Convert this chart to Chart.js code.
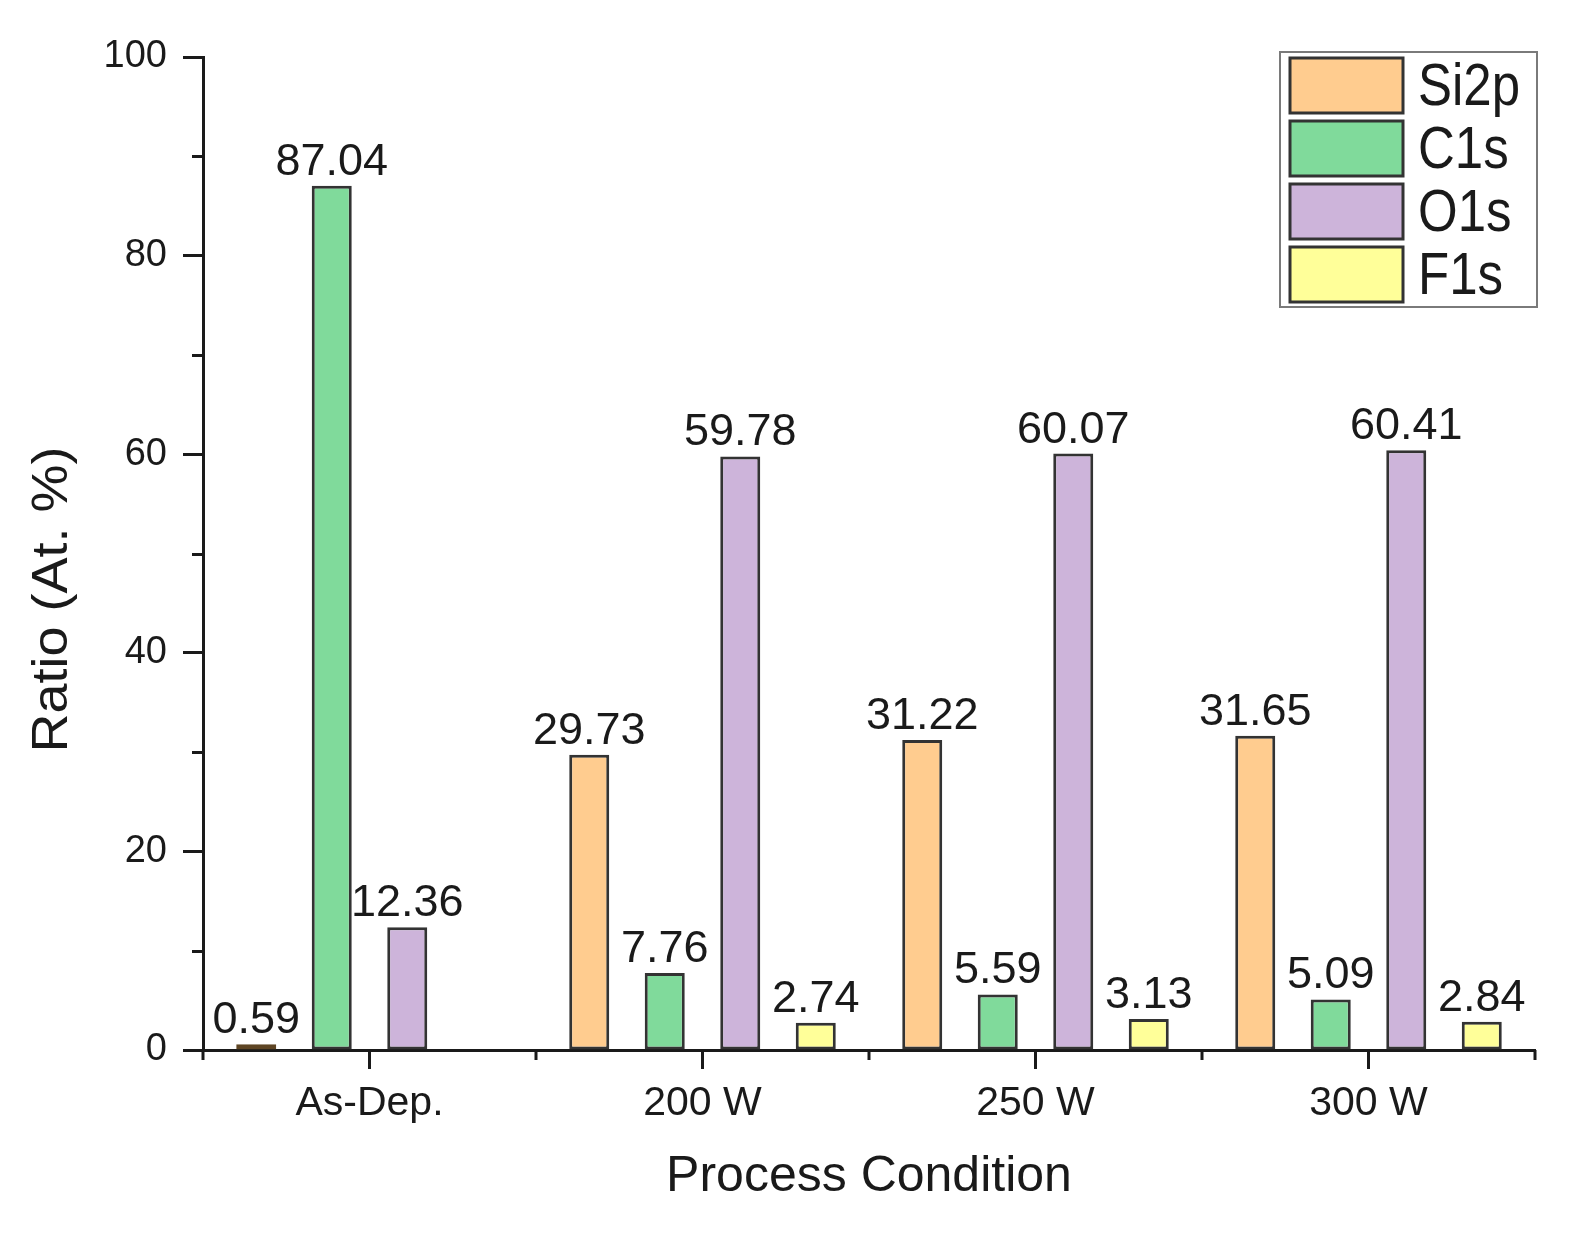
<!DOCTYPE html>
<html>
  <head>
    <meta charset="utf-8">
    <title>XPS ratio</title>
    <script src="https://cdn.jsdelivr.net/npm/chart.js@4.4.1/dist/chart.umd.min.js"></script>
    <style>
      html, body { margin: 0; padding: 0; background: #ffffff; }
      #chart { display: block; }
    </style>
  </head>
  <body>
    <canvas id="chart" width="1585" height="1239"></canvas>
    <script>
      // data
      const conditions = ['As-Dep.', '200 W', '250 W', '300 W'];
      const seriesNames = ['Si2p', 'C1s', 'O1s', 'F1s'];
      const si2p = [0.59, 29.73, 31.22, 31.65];
      const c1s = [87.04, 7.76, 5.59, 5.09];
      const o1s = [12.36, 59.78, 60.07, 60.41];
      const f1s = [null, 2.74, 3.13, 2.84];
      const yTicks = [0, 20, 40, 60, 80, 100];
      const yMinorTicks = [10, 30, 50, 70, 90];

      const fills = ['#FFCC8F', '#80DA9B', '#CDB4DA', '#FFFF99'];
      const ink = '#1a1a1a';
      const FONT = '"Liberation Sans", Arial, sans-serif';

      // minor ticks on both axes
      const minorTicks = {
        id: 'minorTicks',
        afterDraw(chart) {
          const ctx = chart.ctx;
          const x = chart.scales.x, y = chart.scales.y;
          const area = chart.chartArea;
          ctx.save();
          ctx.strokeStyle = ink;
          ctx.lineWidth = 3;
          ctx.beginPath();
          yMinorTicks.forEach(v => {
            const py = Math.round(y.getPixelForValue(v)) + 0.5;
            ctx.moveTo(area.left - 11, py);
            ctx.lineTo(area.left, py);
          });
          const step = x.getPixelForValue(1) - x.getPixelForValue(0);
          for (let i = -1; i < conditions.length; i++) {
            const px = x.getPixelForValue(i) + step / 2;
            ctx.moveTo(px, area.bottom);
            ctx.lineTo(px, area.bottom + 10);
          }
          ctx.stroke();
          ctx.restore();
        }
      };

      // numbers above the bars
      const barValues = {
        id: 'barValues',
        afterDatasetsDraw(chart) {
          const ctx = chart.ctx;
          ctx.save();
          ctx.font = '45px ' + FONT;
          ctx.fillStyle = ink;
          ctx.textAlign = 'center';
          ctx.textBaseline = 'alphabetic';
          chart.data.datasets.forEach((ds, di) => {
            const meta = chart.getDatasetMeta(di);
            meta.data.forEach((bar, i) => {
              const v = ds.data[i];
              if (v === null || v === undefined) return;
              ctx.fillText(v.toFixed(2), bar.x, bar.y - 11);
            });
          });
          ctx.restore();
        }
      };

      // boxed legend and the y title
      const boxLegend = {
        id: 'boxLegend',
        afterDraw(chart) {
          const ctx = chart.ctx;
          const area = chart.chartArea;
          const left = area.right - 255, top = area.top - 5;
          const w = 257, h = 255;
          ctx.save();
          ctx.strokeStyle = '#7a7a7a';
          ctx.lineWidth = 2;
          ctx.strokeRect(left, top, w, h);
          ctx.font = '60px ' + FONT;
          ctx.textAlign = 'left';
          ctx.textBaseline = 'alphabetic';
          seriesNames.forEach((name, i) => {
            const sy = top + 6 + i * 63;
            ctx.fillStyle = fills[i];
            ctx.fillRect(left + 10, sy, 113, 55);
            ctx.strokeStyle = '#333333';
            ctx.lineWidth = 3;
            ctx.strokeRect(left + 10, sy, 113, 55);
            ctx.fillStyle = ink;
            ctx.save();
            ctx.translate(left + 138, sy + 47);
            ctx.scale(0.85, 1);
            ctx.fillText(name, 0, 0);
            ctx.restore();
          });

          ctx.font = '54px ' + FONT;
          ctx.textAlign = 'center';
          ctx.translate(67, (area.top + area.bottom) / 2 + 46);
          ctx.rotate(-Math.PI / 2);
          ctx.scale(1, 0.92);
          ctx.fillText('Ratio (At. %)', 0, 0);
          ctx.restore();
        }
      };

      const datasets = [si2p, c1s, o1s, f1s].map((vals, i) => ({
        label: seriesNames[i],
        data: vals,
        backgroundColor: i === 0 ? vals.map((v, k) => k === 0 ? '#9A7442' : fills[0]) : fills[i],
        borderColor: i === 0 ? vals.map((v, k) => k === 0 ? '#5e4524' : '#333333') : '#333333',
        borderWidth: 3,
        borderSkipped: false,
        categoryPercentage: 0.907,
        barPercentage: 0.53
      }));

      new Chart(document.getElementById('chart'), {
        type: 'bar',
        data: { labels: conditions, datasets: datasets },
        options: {
          responsive: false,
          devicePixelRatio: 1,
          animation: false,
          layout: { padding: { top: 57, right: 50, bottom: 0, left: 0 } },
          plugins: {
            legend: { display: false },
            tooltip: { enabled: false }
          },
          scales: {
            x: {
              grid: {
                offset: false,
                drawOnChartArea: false,
                drawTicks: true,
                tickLength: 19,
                tickWidth: 3,
                tickColor: ink
              },
              border: { color: ink, width: 3 },
              ticks: {
                color: ink,
                padding: 10,
                font: { family: FONT, size: 41 }
              },
              title: {
                display: true,
                text: 'Process Condition',
                color: ink,
                font: { family: FONT, size: 50 },
                padding: { top: 0, bottom: 32 }
              },
              afterFit(scale) { scale.height = 189; }
            },
            y: {
              min: 0,
              max: 100,
              afterBuildTicks(scale) { scale.ticks = yTicks.map(v => ({ value: v })); },
              grid: {
                drawOnChartArea: false,
                drawTicks: true,
                tickLength: 20,
                tickWidth: 3,
                tickColor: ink
              },
              border: { color: ink, width: 3 },
              ticks: {
                color: ink,
                padding: 16,
                font: { family: FONT, size: 38 }
              },
              afterFit(scale) { scale.width = 203; }
            }
          }
        },
        plugins: [minorTicks, barValues, boxLegend]
      });
    </script>
  </body>
</html>
